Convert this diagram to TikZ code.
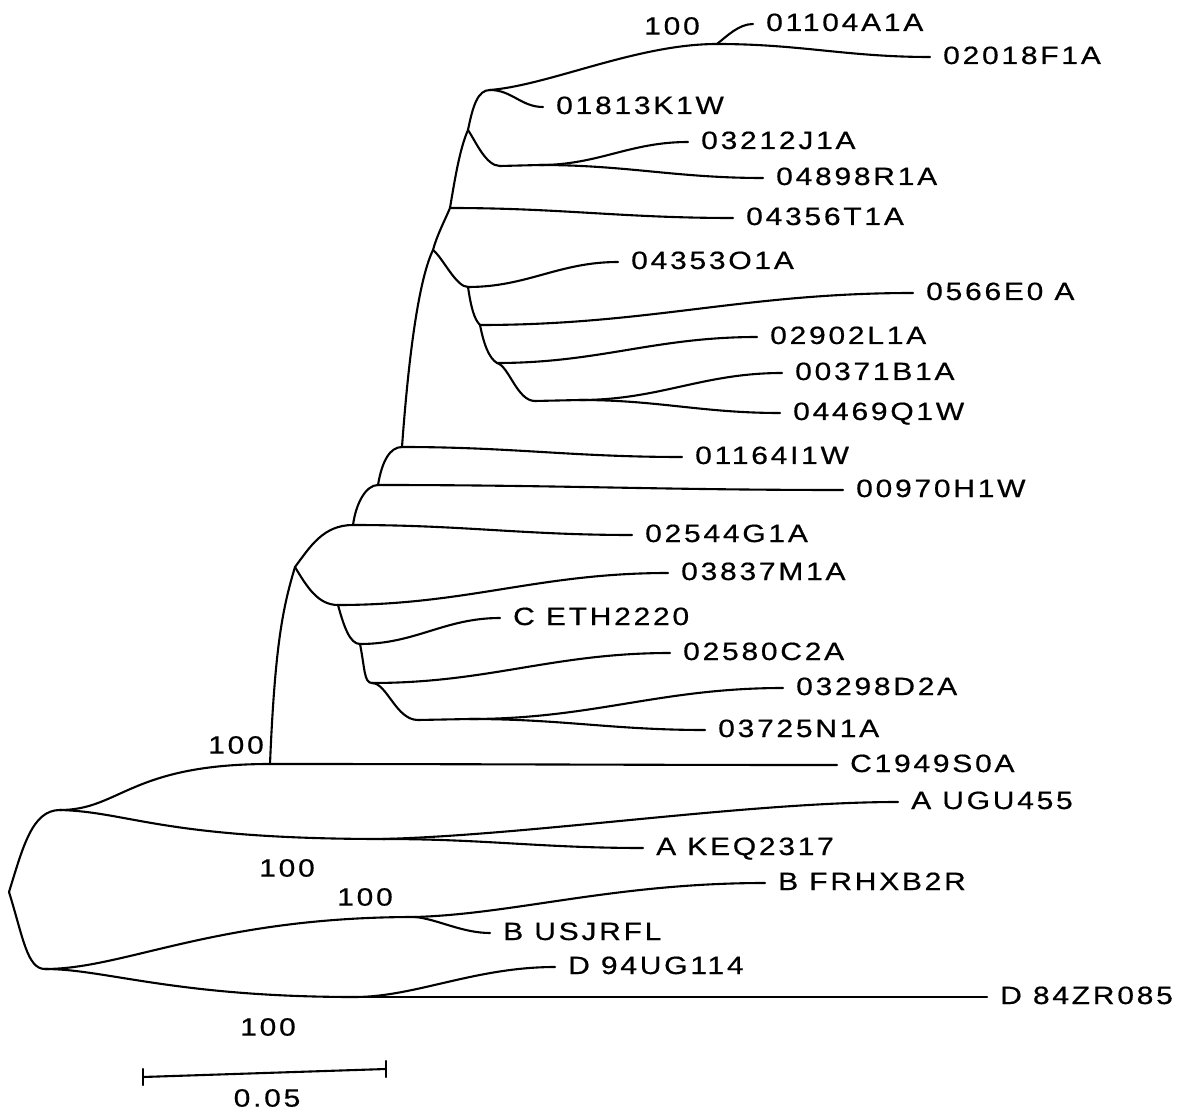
\documentclass[tikz,border=0pt]{standalone}
\usepackage{fontspec}
\newfontfamily\labfam{Liberation Sans}[LetterSpace=11,FakeStretch=1.2,FakeBold=0.6]
\newcommand{\labfont}{\labfam\fontsize{25}{30}\selectfont}
\begin{document}
\begin{tikzpicture}[x=1pt,y=-1pt,
  br/.style={draw,line width=2.1pt,line cap=round,line join=round},
  leaf/.style={anchor=west,inner xsep=13pt,inner ysep=0pt,text height=16pt,text depth=2pt,font=\labfont},
  boot/.style={inner sep=0pt,font=\labfont},
  lf/.style={out=0,in=180}]
\useasboundingbox (0,0) rectangle (1179,1115);
% internal points
\coordinate (R) at (9,892);
\coordinate (U) at (60,810);
\coordinate (L) at (45,969);
\coordinate (J1) at (270,764);
\coordinate (A) at (383,839);
\coordinate (B) at (415,917);
\coordinate (D) at (355,997);
\coordinate (c0) at (295,567);
\coordinate (c1) at (353,525);
\coordinate (c2) at (338,605);
\coordinate (c3) at (360,644);
\coordinate (c4) at (372,683);
\coordinate (c5) at (418,720);
\coordinate (s5) at (470,719);
\coordinate (na) at (378,485);
\coordinate (nb) at (402,447);
\coordinate (nc) at (433,250);
\coordinate (nd) at (450,208);
\coordinate (ne) at (468,287);
\coordinate (nf) at (480,325);
\coordinate (ng) at (497,363);
\coordinate (nh) at (535,401);
\coordinate (sh) at (580,400);
\coordinate (ni) at (468,130);
\coordinate (nj) at (500,166);
\coordinate (sj) at (540,165);
\coordinate (nk) at (490,90);
\coordinate (sk) at (717,44);
% leaves
\node[leaf] (l1) at (753,24) {01104A1A};
\node[leaf] (l2) at (930,57) {02018F1A};
\node[leaf] (l3) at (543,107) {01813K1W};
\node[leaf] (l4) at (688,142) {03212J1A};
\node[leaf] (l5) at (763,178) {04898R1A};
\node[leaf] (l6) at (733,218) {04356T1A};
\node[leaf] (l7) at (618,262) {04353O1A};
\node[leaf] (l8) at (913,293) {0566E0 A};
\node[leaf] (l9) at (757,337) {02902L1A};
\node[leaf] (l10) at (782,373) {00371B1A};
\node[leaf] (l11) at (780,413) {04469Q1W};
\node[leaf] (l12) at (682,457) {01164I1W};
\node[leaf] (l13) at (843,490) {00970H1W};
\node[leaf] (l14) at (632,535) {02544G1A};
\node[leaf] (l15) at (668,573) {03837M1A};
\node[leaf] (l16) at (500,618) {C ETH2220};
\node[leaf] (l17) at (670,653) {02580C2A};
\node[leaf] (l18) at (783,688) {03298D2A};
\node[leaf] (l19) at (705,730) {03725N1A};
\node[leaf] (l20) at (837,765) {C1949S0A};
\node[leaf] (l21) at (898,802) {A UGU455};
\node[leaf] (l22) at (643,848) {A KEQ2317};
\node[leaf] (l23) at (765,883) {B FRHXB2R};
\node[leaf] (l24) at (490,933) {B USJRFL};
\node[leaf] (l25) at (555,967) {D 94UG114};
\node[leaf] (l26) at (987,997) {D 84ZR085};
% bootstrap values
\node[boot] (b1) at (236,745) {100};
\node[boot] (b2) at (287,868) {100};
\node[boot] (b3) at (365,897) {100};
\node[boot] (b4) at (268,1027) {100};
\node[boot] (b5) at (672,26) {100};
% root
\draw[br] (R) .. controls +(14,-45) and +(-28,0) .. (U);
\draw[br] (R) .. controls +(14,45) and +(-18,0) .. (L);
% upper part of root
\draw[br] (U) .. controls +(60,0) and +(-140,0) .. (J1);
\draw[br] (J1) to[lf] (l20.west);
\draw[br] (U) .. controls +(70,2) and +(-220,0) .. (A);
\draw[br] (A) .. controls +(150,-4) and +(-150,0) .. (l21.west);
\draw[br] (A) to[lf] (l22.west);
% lower part of root
\draw[br] (L) .. controls +(80,0) and +(-200,0) .. (B);
\draw[br] (B) .. controls +(100,-3) and +(-150,0) .. (l23.west);
\draw[br] (B) .. controls +(22,2) and +(-28,0) .. (l24.west);
\draw[br] (L) .. controls +(60,0) and +(-180,0) .. (D);
\draw[br] (D) .. controls +(60,0) and +(-80,0) .. (l25.west);
\draw[br] (D) to[lf] (l26.west);
% C clade, lower group
\draw[br] (J1) .. controls +(5,-120) and +(-12,40) .. (c0);
\draw[br] (c0) .. controls +(15,-20) and +(-30,0) .. (c1);
\draw[br] (c1) to[lf] (l14.west);
\draw[br] (c0) .. controls +(12,20) and +(-20,0) .. (c2);
\draw[br] (c2) to[lf] (l15.west);
\draw[br] (c2) .. controls +(6,22) and +(-10,0) .. (c3);
\draw[br] (c3) to[lf] (l16.west);
\draw[br] (c3) .. controls +(5,25) and +(-8,0) .. (c4);
\draw[br] (c4) to[lf] (l17.west);
\draw[br] (c4) .. controls +(15,0) and +(-22,0) .. (c5);
\draw[br] (c5) -- (s5);
\draw[br] (s5) to[lf] (l18.west);
\draw[br] (s5) to[lf] (l19.west);
% C clade, upper group
\draw[br] (c1) .. controls +(3,-22) and +(-12,0) .. (na);
\draw[br] (na) to[lf] (l13.west);
\draw[br] (na) .. controls +(4,-24) and +(-12,0) .. (nb);
\draw[br] (nb) to[lf] (l12.west);
\draw[br] (nb) .. controls +(8,-110) and +(-12,25) .. (nc);
\draw[br] (nc) .. controls +(10,8) and +(-12,0) .. (ne);
\draw[br] (ne) to[lf] (l7.west);
\draw[br] (ne) .. controls +(3,20) and +(-6,-6) .. (nf);
\draw[br] (nf) to[lf] (l8.west);
\draw[br] (nf) .. controls +(4,20) and +(-8,-5) .. (ng);
\draw[br] (ng) to[lf] (l9.west);
\draw[br] (ng) .. controls +(12,3) and +(-18,0) .. (nh);
\draw[br] (nh) -- (sh);
\draw[br] (sh) to[lf] (l10.west);
\draw[br] (sh) to[lf] (l11.west);
\draw[br] (nc) .. controls +(4,-15) and +(-5,12) .. (nd);
\draw[br] (nd) to[lf] (l6.west);
\draw[br] (nd) .. controls +(5,-30) and +(-8,18) .. (ni);
\draw[br] (ni) .. controls +(8,12) and +(-14,0) .. (nj);
\draw[br] (nj) -- (sj);
\draw[br] (sj) to[lf] (l4.west);
\draw[br] (sj) to[lf] (l5.west);
\draw[br] (ni) .. controls +(5,-25) and +(-12,0) .. (nk);
\draw[br] (nk) to[lf] (l3.west);
\draw[br] (nk) .. controls +(60,-5) and +(-80,0) .. (sk);
\draw[br] (sk) .. controls +(10,-8) and +(-14,0) .. (l1.west);
\draw[br] (sk) to[lf] (l2.west);
% scale bar
\coordinate (sb1) at (143,1077);
\coordinate (sb2) at (386,1069);
\draw[br] (sb1) -- (sb2);
\draw[br] ([yshift=-8pt]sb1) -- ([yshift=8pt]sb1);
\draw[br] ([yshift=-8pt]sb2) -- ([yshift=8pt]sb2);
\node[boot] (sl) at (267,1098) {0.05};
\end{tikzpicture}
\end{document}
